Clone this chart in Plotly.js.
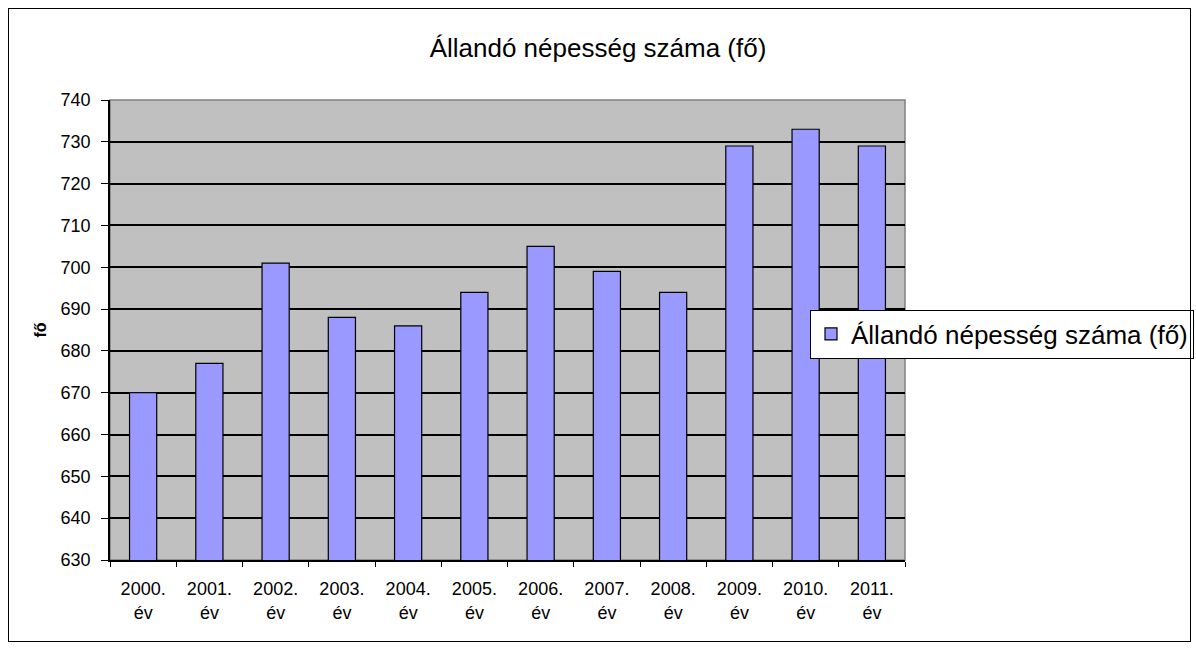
<!DOCTYPE html>
<html>
<head>
<meta charset="utf-8">
<script src="https://cdn.plot.ly/plotly-3.0.1.min.js"></script>
<style>
  html, body { margin: 0; padding: 0; background: #fff; }
  #wrap { position: relative; width: 1196px; height: 648px; }
  #chart { position: absolute; left: 0; top: 0; width: 1196px; height: 648px; }
  #frame { position: absolute; left: 8px; top: 8px; width: 1181px; height: 632px; border: 1px solid #000; pointer-events: none; }
</style>
</head>
<body>
<div id="wrap">
  <div id="chart"></div>
  <div id="frame"></div>
</div>
<script>
const years = ["2000.", "2001.", "2002.", "2003.", "2004.", "2005.", "2006.", "2007.", "2008.", "2009.", "2010.", "2011."];
const tickLabels = years.map(y => y + "<br>év");
const population = [670, 677, 701, 688, 686, 694, 705, 699, 694, 729, 733, 729];
const seriesName = "Állandó népesség száma (fő)";
const chartTitle = "Állandó népesség száma (fő)";
const yTitle = "fő";
const yTicks = [630, 640, 650, 660, 670, 680, 690, 700, 710, 720, 730, 740];

const fontFam = "Liberation Sans, Arial, sans-serif";

const trace = {
  type: "bar",
  x: years,
  y: population,
  name: seriesName,
  showlegend: true,
  marker: { color: "#9999ff", line: { color: "#000", width: 1.2 } },
  hoverinfo: "x+y"
};

const layout = {
  width: 1196,
  height: 648,
  margin: { l: 110, r: 291, t: 100, b: 88, autoexpand: false },
  paper_bgcolor: "rgba(0,0,0,0)",
  plot_bgcolor: "#c0c0c0",
  font: { family: fontFam, color: "#000", size: 18 },
  title: { text: chartTitle, font: { family: fontFam, size: 26, color: "#000" }, x: 598 / 1196, xanchor: "center", xref: "container", y: 1 - 48/648, yanchor: "middle" },
  bargap: 0.59,
  showlegend: true,
  legend: {
    x: (1194 - 110) / 795, xanchor: "right", xref: "paper",
    y: (560 - 334) / 460, yanchor: "middle",
    bgcolor: "#fff", bordercolor: "#000", borderwidth: 1,
    font: { family: fontFam, size: 26, color: "#000" },
    itemwidth: 30
  },
  xaxis: {
    type: "category",
    tickmode: "array",
    tickvals: years,
    ticktext: tickLabels,
    tickson: "boundaries",
    ticks: "outside",
    ticklen: 5,
    tickcolor: "#000",
    showline: true,
    linecolor: "#000",
    linewidth: 1.5,
    showgrid: false,
    tickfont: { family: fontFam, size: 18, color: "#000" },
    ticklabelstandoff: 12,
    fixedrange: true
  },
  yaxis: {
    range: [630, 740],
    tickmode: "array",
    tickvals: yTicks,
    ticks: "outside",
    ticklen: 7,
    tickcolor: "#000",
    showline: true,
    linecolor: "#000",
    linewidth: 1.5,
    showgrid: true,
    gridcolor: "#000",
    gridwidth: 1.5,
    zeroline: false,
    tickfont: { family: fontFam, size: 18, color: "#000" },
    ticklabelstandoff: 7,
    title: { text: "<b>" + yTitle + "</b>", font: { family: fontFam, size: 16, color: "#000" }, standoff: 10 },
    fixedrange: true
  },
  shapes: [{
    type: "rect", xref: "paper", yref: "paper", x0: 0, x1: 1, y0: 0, y1: 1,
    line: { color: "#808080", width: 1.5 }, layer: "below"
  }]
};

Plotly.newPlot("chart", [trace], layout, { displayModeBar: false, responsive: false });
</script>
</body>
</html>
